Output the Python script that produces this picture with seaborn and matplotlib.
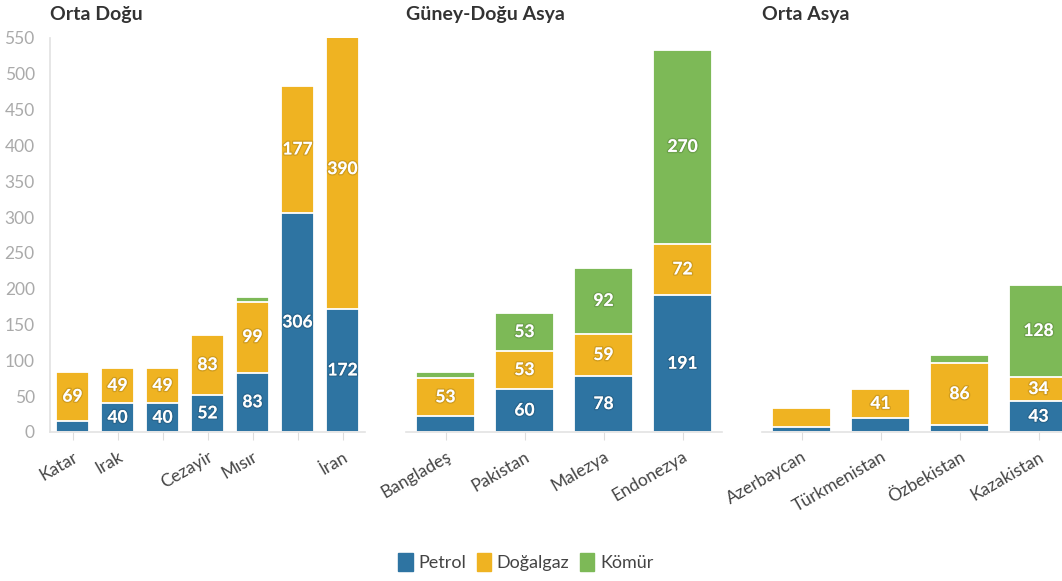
import matplotlib
matplotlib.use("Agg")
import matplotlib.pyplot as plt
import matplotlib.patheffects as pe
from matplotlib.patches import Patch
import pandas as pd
import seaborn as sns

# bolge basliklari
bolgeler = ["Orta Doğu", "Güney-Doğu Asya", "Orta Asya"]

orta_dogu_etiket = ["Katar", "Irak", "", "Cezayir", "Mısır", "", "İran"]
orta_dogu_petrol = [15, 40, 40, 52, 83, 306, 172]
orta_dogu_dogalgaz = [69, 49, 49, 83, 99, 177, 390]
orta_dogu_komur = [0, 0, 0, 0, 6, 0, 0]

gd_asya_etiket = ["Bangladeş", "Pakistan", "Malezya", "Endonezya"]
gd_asya_petrol = [22, 60, 78, 191]
gd_asya_dogalgaz = [53, 53, 59, 72]
gd_asya_komur = [9, 53, 92, 270]

orta_asya_etiket = ["Azerbaycan", "Türkmenistan", "Özbekistan", "Kazakistan"]
orta_asya_petrol = [7, 19, 10, 43]
orta_asya_dogalgaz = [26, 41, 86, 34]
orta_asya_komur = [0, 0, 12, 128]

kaynaklar = ["Petrol", "Doğalgaz", "Kömür"]
renkler = ["#2e74a2", "#efb322", "#7db957"]

y_ticks = list(range(0, 551, 50))


def bolge_tablosu(etiket, petrol, dogalgaz, komur):
    df = pd.DataFrame({"sira": range(len(etiket)), "etiket": etiket,
                       "Petrol": petrol, "Doğalgaz": dogalgaz, "Kömür": komur})
    df["ust_petrol"] = df["Petrol"]
    df["ust_dogalgaz"] = df["Petrol"] + df["Doğalgaz"]
    df["ust_komur"] = df["ust_dogalgaz"] + df["Kömür"]
    return df


tablolar = [
    bolge_tablosu(orta_dogu_etiket, orta_dogu_petrol, orta_dogu_dogalgaz, orta_dogu_komur),
    bolge_tablosu(gd_asya_etiket, gd_asya_petrol, gd_asya_dogalgaz, gd_asya_komur),
    bolge_tablosu(orta_asya_etiket, orta_asya_petrol, orta_asya_dogalgaz, orta_asya_komur),
]

sns.set_theme(style="white")
plt.rcParams["font.family"] = ["Lato", "DejaVu Sans"]

W, H = 1062, 581
fig = plt.figure(figsize=(W / 100, H / 100), dpi=100)

# panel konumlari (piksel)
sol_kenarlar = [(50, 365), (406, 722), (762, 1078)]
alt_px, ust_px = 432, 38

golge = [pe.withStroke(linewidth=2, foreground=(0, 0, 0, 0.12))]

for i, (df, baslik) in enumerate(zip(tablolar, bolgeler)):
    x0, x1 = sol_kenarlar[i]
    ax = fig.add_axes([x0 / W, (H - alt_px) / H, (x1 - x0) / W, (alt_px - ust_px) / H])

    katmanlar = [("ust_komur", renkler[2]), ("ust_dogalgaz", renkler[1]), ("ust_petrol", renkler[0])]
    for kolon, renk in katmanlar:
        sns.barplot(data=df, x="sira", y=kolon, color=renk, saturation=1, width=0.75,
                    edgecolor="white", linewidth=1.3, errorbar=None, ax=ax)

    # segment etiketleri
    for _, r in df.iterrows():
        alt = 0
        for kaynak in kaynaklar:
            v = r[kaynak]
            if v >= 30:
                ax.text(r["sira"], alt + v / 2, f"{v}", ha="center", va="center",
                        color="white", fontsize=12.5, fontweight="bold", path_effects=golge)
            alt += v

    ax.set_ylim(0, 550)
    ax.set_xlim(-0.5, len(df) - 0.5)
    ax.set_xlabel("")
    ax.set_ylabel("")
    ax.set_xticks(range(len(df)))
    ax.set_xticklabels(df["etiket"], rotation=30, ha="right", rotation_mode="anchor",
                       color="#444444", fontsize=12.5)
    ax.tick_params(axis="x", bottom=True, length=6, width=0.8, color="#dddddd", pad=6)
    ax.set_yticks(y_ticks)
    if i == 0:
        ax.set_yticklabels([str(t) for t in y_ticks], color="#aaaaaa", fontsize=12.5)
        ax.tick_params(axis="y", left=False, pad=5)
        ax.spines["left"].set_color("#e3e3e3")
    else:
        ax.set_yticklabels([])
        ax.tick_params(axis="y", left=False)
        ax.spines["left"].set_visible(False)
    for s in ["top", "right"]:
        ax.spines[s].set_visible(False)
    ax.spines["bottom"].set_color("#e3e3e3")
    ax.spines["bottom"].set_linewidth(1.2)
    ax.set_title(baslik, loc="left", fontsize=14, fontweight="bold", color="#333333", pad=13)

handles = [Patch(facecolor=c, edgecolor=c, label=k) for k, c in zip(kaynaklar, renkler)]
fig.legend(handles=handles, loc="center", bbox_to_anchor=(0.495, 0.033), ncol=3, frameon=False,
           fontsize=13, handlelength=0.8, handleheight=1.2, handletextpad=0.3, columnspacing=0.6,
           labelcolor="#444444")

fig.savefig("out.png", dpi=100)
